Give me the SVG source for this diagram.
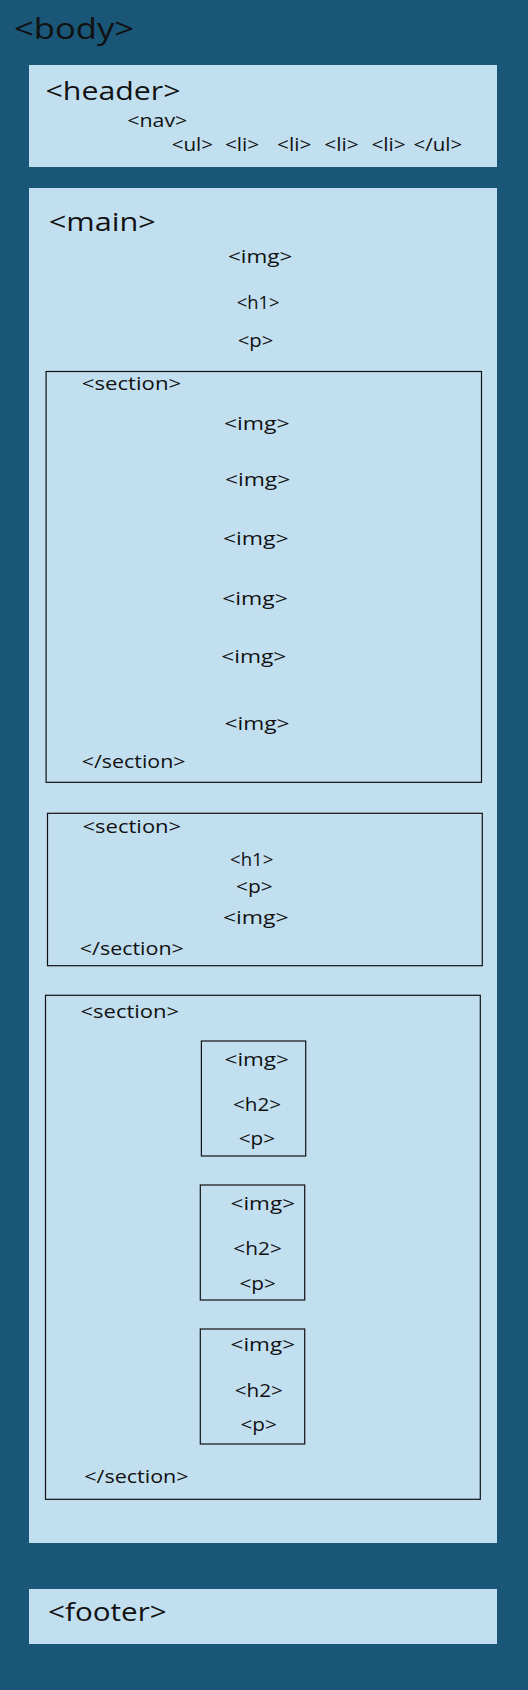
<svg xmlns="http://www.w3.org/2000/svg" width="528" height="1690" viewBox="0 0 528 1690">
<style>
.bg{fill:#195677}
.blk{fill:#c2dff0}
.box{fill:none;stroke:#111;stroke-width:1.2}
text{font-family:"Open Sans","Noto Sans",sans-serif;fill:#111}
.xl{font-size:30px}
.l{font-size:26px}
.m{font-size:19px}
.s{font-size:17.5px}
</style>
<rect class="bg" x="0" y="0" width="528" height="1690"/>
<g id="body"><text class="xl" x="14" y="39" textLength="120" lengthAdjust="spacingAndGlyphs">&lt;body&gt;</text></g>
<g id="header">
<rect class="blk" x="29" y="65" width="468" height="102"/>
<text class="l" x="45.5" y="100" textLength="135" lengthAdjust="spacingAndGlyphs">&lt;header&gt;</text>
<text class="s" x="127.3" y="127" textLength="60" lengthAdjust="spacingAndGlyphs">&lt;nav&gt;</text>
<text class="s" x="171.7" y="151" textLength="41.4" lengthAdjust="spacingAndGlyphs">&lt;ul&gt;</text>
<text class="s" x="224.9" y="151" textLength="34.4" lengthAdjust="spacingAndGlyphs">&lt;li&gt;</text>
<text class="s" x="277.1" y="151" textLength="34.4" lengthAdjust="spacingAndGlyphs">&lt;li&gt;</text>
<text class="s" x="324.3" y="151" textLength="34.4" lengthAdjust="spacingAndGlyphs">&lt;li&gt;</text>
<text class="s" x="371.4" y="151" textLength="34.4" lengthAdjust="spacingAndGlyphs">&lt;li&gt;</text>
<text class="s" x="413.5" y="151" textLength="48.8" lengthAdjust="spacingAndGlyphs">&lt;/ul&gt;</text>
</g>
<g id="main">
<rect class="blk" x="29" y="188" width="468" height="1355"/>
<text class="l" x="48.8" y="231" textLength="107" lengthAdjust="spacingAndGlyphs">&lt;main&gt;</text>
<text class="m" x="228" y="263" textLength="64.3" lengthAdjust="spacingAndGlyphs">&lt;img&gt;</text>
<text class="m" x="236.7" y="309" textLength="42.8" lengthAdjust="spacingAndGlyphs">&lt;h1&gt;</text>
<text class="m" x="237.7" y="347" textLength="35.7" lengthAdjust="spacingAndGlyphs">&lt;p&gt;</text>
</g>
<g id="section1">
<rect class="box" x="46.1" y="371.5" width="435.4" height="410.8"/>
<text class="m" x="81.8" y="390" textLength="99.4" lengthAdjust="spacingAndGlyphs">&lt;section&gt;</text>
<text class="m" x="223.9" y="430" textLength="65.7" lengthAdjust="spacingAndGlyphs">&lt;img&gt;</text>
<text class="m" x="224.9" y="486" textLength="65.4" lengthAdjust="spacingAndGlyphs">&lt;img&gt;</text>
<text class="m" x="222.9" y="545" textLength="65.7" lengthAdjust="spacingAndGlyphs">&lt;img&gt;</text>
<text class="m" x="222.2" y="605" textLength="65.7" lengthAdjust="spacingAndGlyphs">&lt;img&gt;</text>
<text class="m" x="221.2" y="663" textLength="65" lengthAdjust="spacingAndGlyphs">&lt;img&gt;</text>
<text class="m" x="224.6" y="730" textLength="65" lengthAdjust="spacingAndGlyphs">&lt;img&gt;</text>
<text class="m" x="81.8" y="768" textLength="103.7" lengthAdjust="spacingAndGlyphs">&lt;/section&gt;</text>
</g>
<g id="section2">
<rect class="box" x="47.5" y="813.3" width="434.8" height="152.4"/>
<text class="m" x="82.5" y="833" textLength="98.7" lengthAdjust="spacingAndGlyphs">&lt;section&gt;</text>
<text class="m" x="230" y="866" textLength="43.4" lengthAdjust="spacingAndGlyphs">&lt;h1&gt;</text>
<text class="m" x="236" y="893" textLength="36.7" lengthAdjust="spacingAndGlyphs">&lt;p&gt;</text>
<text class="m" x="222.9" y="924" textLength="65.7" lengthAdjust="spacingAndGlyphs">&lt;img&gt;</text>
<text class="m" x="79.8" y="955" textLength="104" lengthAdjust="spacingAndGlyphs">&lt;/section&gt;</text>
</g>
<g id="section3">
<rect class="box" x="45.5" y="995.3" width="434.8" height="504"/>
<text class="m" x="80.5" y="1018" textLength="98.6" lengthAdjust="spacingAndGlyphs">&lt;section&gt;</text>
<text class="m" x="84.2" y="1483" textLength="104.4" lengthAdjust="spacingAndGlyphs">&lt;/section&gt;</text>
</g>
<g id="card1">
<rect class="box" x="201.4" y="1041" width="104.3" height="115"/>
<text class="m" x="224.6" y="1066" textLength="64.3" lengthAdjust="spacingAndGlyphs">&lt;img&gt;</text>
<text class="m" x="233" y="1111" textLength="48.1" lengthAdjust="spacingAndGlyphs">&lt;h2&gt;</text>
<text class="m" x="238.7" y="1145" textLength="36.4" lengthAdjust="spacingAndGlyphs">&lt;p&gt;</text>
</g>
<g id="card2">
<rect class="box" x="200.3" y="1185" width="104.4" height="115"/>
<text class="m" x="230.6" y="1210" textLength="64.4" lengthAdjust="spacingAndGlyphs">&lt;img&gt;</text>
<text class="m" x="233.3" y="1255" textLength="48.5" lengthAdjust="spacingAndGlyphs">&lt;h2&gt;</text>
<text class="m" x="239.4" y="1290" textLength="36.4" lengthAdjust="spacingAndGlyphs">&lt;p&gt;</text>
</g>
<g id="card3">
<rect class="box" x="200.3" y="1329" width="104.4" height="115"/>
<text class="m" x="230.6" y="1351" textLength="64.4" lengthAdjust="spacingAndGlyphs">&lt;img&gt;</text>
<text class="m" x="234.7" y="1397" textLength="48.1" lengthAdjust="spacingAndGlyphs">&lt;h2&gt;</text>
<text class="m" x="240.4" y="1431" textLength="36.4" lengthAdjust="spacingAndGlyphs">&lt;p&gt;</text>
</g>
<g id="footer">
<rect class="blk" x="29" y="1589" width="468" height="55"/>
<text class="l" x="48.1" y="1621" textLength="118.6" lengthAdjust="spacingAndGlyphs">&lt;footer&gt;</text>
</g>
<g id="connectors"/>
</svg>
